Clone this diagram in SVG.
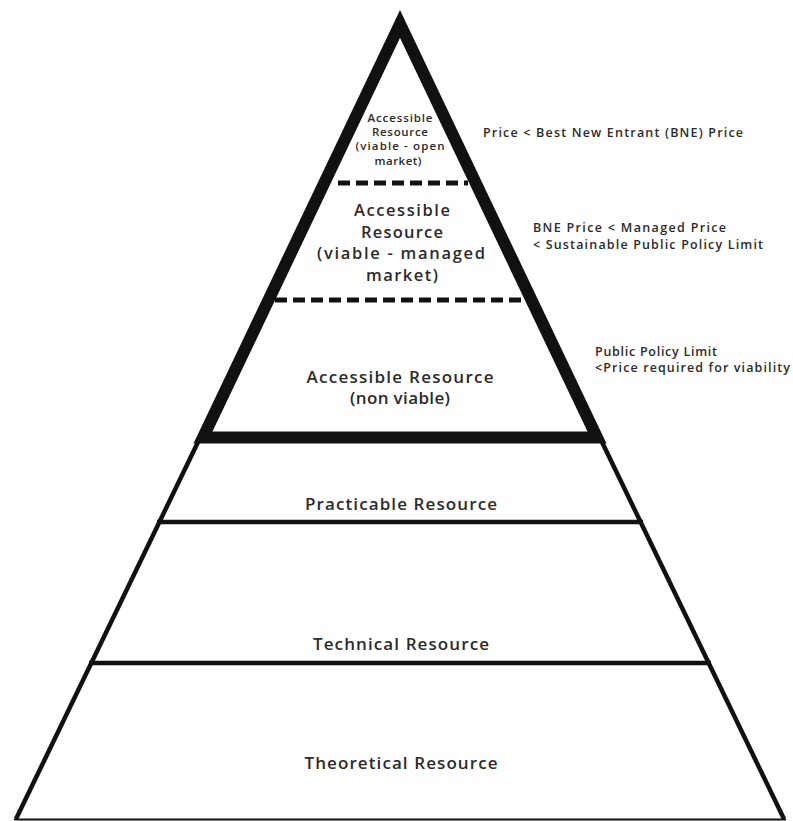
<svg xmlns="http://www.w3.org/2000/svg" width="793" height="821" viewBox="0 0 793 821">
<style>
text{font-family:"Open Sans","Liberation Sans",sans-serif;font-weight:600;fill:#2b2b2b;}
.c{text-anchor:middle;}
.thin{stroke:#111;stroke-width:4.5;fill:none;}
.dash{stroke:#111;stroke-width:5;stroke-dasharray:12 6;fill:none;}
</style>
<rect width="793" height="821" fill="#fff"/>
<g id="connectors">
<line class="thin" x1="199" y1="440" x2="16" y2="819"/>
<line class="thin" x1="601" y1="440" x2="784" y2="819"/>
<line x1="14" y1="819.5" x2="786" y2="819.5" stroke="#111" stroke-width="2"/>
<line class="thin" x1="157" y1="522" x2="643" y2="522"/>
<line class="thin" x1="89" y1="663" x2="711" y2="663"/>
<line class="dash" x1="338" y1="183" x2="468" y2="183"/>
<line class="dash" x1="275" y1="300" x2="527" y2="300"/>
<polygon points="400,24 203,437.5 597,437.5" fill="none" stroke="#111" stroke-width="12" stroke-linejoin="miter" stroke-miterlimit="10"/>
</g>
<g id="open-market">
<text class="c" x="400" y="122" font-size="11.5" textLength="65" lengthAdjust="spacing">Accessible</text>
<text class="c" x="400" y="136" font-size="11.5" textLength="56" lengthAdjust="spacing">Resource</text>
<text class="c" x="400" y="150" font-size="11.5" textLength="89" lengthAdjust="spacing">(viable - open</text>
<text class="c" x="398" y="165" font-size="11.5" textLength="47" lengthAdjust="spacing">market)</text>
</g>
<g id="managed-market">
<text class="c" x="402" y="216" font-size="16.5" textLength="96" lengthAdjust="spacing">Accessible</text>
<text class="c" x="402" y="237.5" font-size="16.5" textLength="82" lengthAdjust="spacing">Resource</text>
<text class="c" x="401" y="259" font-size="16.5" textLength="168" lengthAdjust="spacing">(viable - managed</text>
<text class="c" x="402" y="280.5" font-size="16.5" textLength="72" lengthAdjust="spacing">market)</text>
</g>
<g id="non-viable">
<text class="c" x="400" y="383" font-size="17" textLength="187" lengthAdjust="spacing">Accessible Resource</text>
<text class="c" x="400" y="404" font-size="17" textLength="100" lengthAdjust="spacing">(non viable)</text>
</g>
<g id="practicable"><text class="c" x="401" y="510" font-size="17" textLength="192" lengthAdjust="spacing">Practicable Resource</text></g>
<g id="technical"><text class="c" x="401" y="650" font-size="17" textLength="176" lengthAdjust="spacing">Technical Resource</text></g>
<g id="theoretical"><text class="c" x="401" y="769" font-size="17" textLength="193" lengthAdjust="spacing">Theoretical Resource</text></g>
<g id="labels">
<text x="483" y="137" font-size="12.5" textLength="260" lengthAdjust="spacing">Price &lt; Best New Entrant (BNE) Price</text>
<text x="533" y="232" font-size="12.5" textLength="193" lengthAdjust="spacing">BNE Price &lt; Managed Price</text>
<text x="533" y="249" font-size="12.5" textLength="230" lengthAdjust="spacing">&lt; Sustainable Public Policy Limit</text>
<text x="595" y="356" font-size="12.5" textLength="122" lengthAdjust="spacing">Public Policy Limit</text>
<text x="595" y="372" font-size="12.5" textLength="195" lengthAdjust="spacing">&lt;Price required for viability</text>
</g>
</svg>
